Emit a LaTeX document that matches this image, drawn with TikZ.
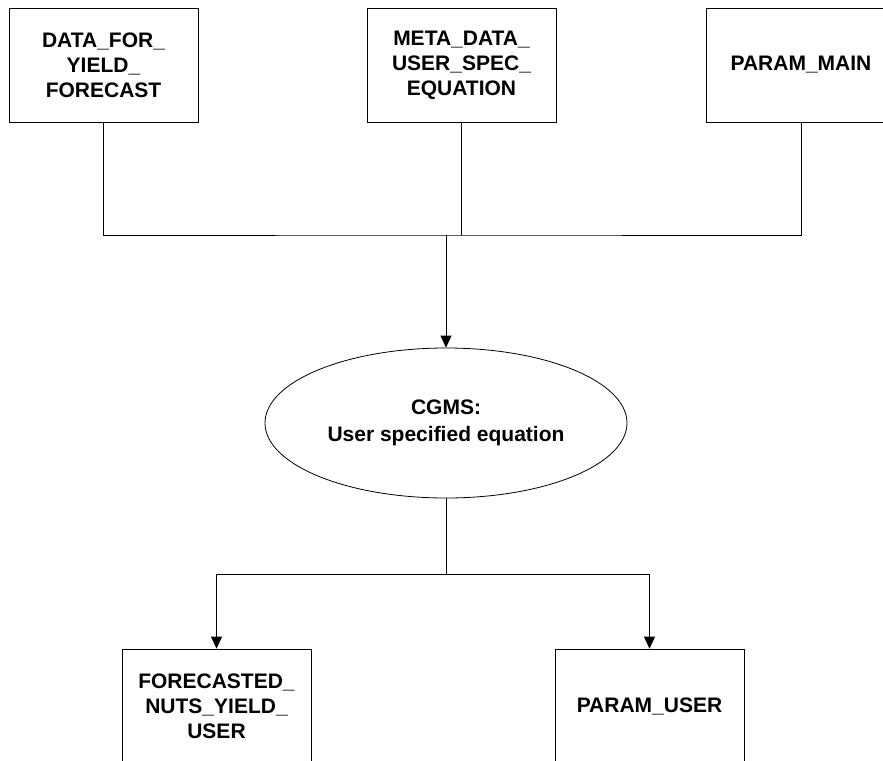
\documentclass[tikz,border=0pt]{standalone}
\usepackage{fontspec}
\setmainfont{Liberation Sans}
\usetikzlibrary{shapes.geometric,arrows.meta}

\tikzstyle{tablebox} = [draw=black, fill=white, line width=0.8pt,
    rectangle, minimum width=189pt, minimum height=114pt, align=center,
    font=\fontsize{21}{25}\selectfont\bfseries]
\tikzstyle{procellipse} = [draw=black, fill=white, line width=0.8pt,
    ellipse, minimum width=362pt, minimum height=150pt, inner sep=0pt,
    align=center, font=\fontsize{21}{27}\selectfont\bfseries]
\tikzstyle{flow} = [line width=0.8pt, -{Triangle[length=12pt,width=11pt]}]

\begin{document}
\begin{tikzpicture}[x=1pt, y=-1pt]
\useasboundingbox (0,0) rectangle (883,760);
\clip (0,0) rectangle (883,760);
% inputs
\node [tablebox] (dataforyield) at (103.5,65) {DATA\_FOR\_\\YIELD\_\\FORECAST};
\node [tablebox] (metadata) at (461.5,65) {META\_DATA\_\\USER\_SPEC\_\\EQUATION};
\node [tablebox] (parammain) at (801,65) {PARAM\_MAIN};
% process
\node [procellipse] (cgms) at (446,423) {CGMS:\\User specified equation};
% outputs
\node [tablebox] (forecasted) at (216.5,706) {FORECASTED\_\\NUTS\_YIELD\_\\USER};
\node [tablebox] (paramuser) at (649.5,706) {PARAM\_USER};
\coordinate (topbus) at (446,235);
\coordinate (lowbus) at (446,574);
\draw [line width=0.8pt] (dataforyield.south) |- (topbus) -| (parammain.south);
\draw [line width=0.8pt] (metadata.south) -- (metadata.south |- topbus);
\draw [flow] (topbus) -- (cgms.north);
\draw [line width=0.8pt] (cgms.south) -- (lowbus);
\draw [flow] (lowbus) -| (forecasted.north);
\draw [flow] (lowbus) -| (paramuser.north);
\end{tikzpicture}
\end{document}
